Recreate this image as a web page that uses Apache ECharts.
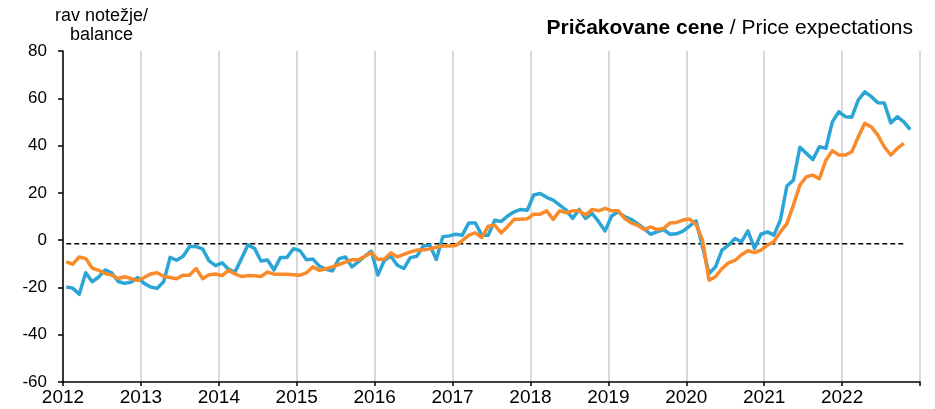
<!DOCTYPE html>
<html>
<head>
<meta charset="utf-8">
<script src="https://cdn.jsdelivr.net/npm/echarts/dist/echarts.min.js"></script>
<style>
  html, body { margin: 0; padding: 0; background: #fff; }
  #chart { width: 935px; height: 409px; }
</style>
</head>
<body>
<div id="chart"></div>
<script>
// Monthly data, January 2012 onward
const yearLabels = ['2012','2013','2014','2015','2016','2017','2018','2019','2020','2021','2022'];

const seriesBlue = [
  -19.8, -20.3, -22.9, -13.8, -17.6, -15.6, -12.6, -13.8, -17.5, -18.3, -17.7, -15.8,
  -18.3, -19.8, -20.4, -17.6, -7.3, -8.5, -6.8, -2.7, -2.7, -3.7, -8.8, -10.8,
  -9.6, -12.3, -13.5, -7.8, -2.0, -3.5, -8.8, -8.4, -12.6, -7.3, -7.3, -3.6,
  -4.5, -8.3, -8.0, -11.0, -12.3, -13.0, -7.8, -7.1, -11.3, -9.1, -6.8, -4.7,
  -14.8, -8.5, -6.8, -10.6, -12.0, -7.4, -6.8, -2.5, -2.1, -8.2, 1.4, 1.8,
  2.5, 2.1, 7.3, 7.3, 2.1, 2.1, 8.4, 7.9, 10.2, 12.0, 13.0, 12.6,
  19.1, 19.7, 18.1, 16.9, 14.8, 12.7, 9.2, 13.0, 9.2, 11.3, 7.8, 3.9,
  10.2, 12.0, 9.9, 8.8, 7.0, 4.9, 2.5, 3.5, 4.5, 2.5, 2.7, 3.8,
  5.9, 8.2, -2.7, -14.1, -11.3, -4.2, -2.1, 0.7, -0.7, 3.9, -3.5, 2.5,
  3.5, 2.1, 8.5, 22.9, 25.4, 39.3, 36.7, 34.1, 39.5, 38.8, 50.0, 54.3,
  52.2, 52.0, 59.3, 62.7, 60.7, 58.1, 58.0, 49.6, 52.2, 50.0, 46.8
];

const seriesOrange = [
  -9.2, -10.2, -7.1, -7.8, -11.8, -12.8, -14.1, -14.8, -16.2, -15.5, -16.3, -17.1,
  -15.8, -14.3, -13.8, -15.3, -15.8, -16.3, -14.8, -14.8, -12.0, -16.3, -14.6, -14.3,
  -15.0, -12.8, -14.3, -15.4, -15.0, -15.1, -15.4, -13.5, -14.4, -14.4, -14.4, -14.6,
  -14.8, -13.8, -11.3, -12.8, -12.1, -11.3, -10.3, -9.3, -8.3, -8.3, -6.8, -5.3,
  -8.2, -8.0, -5.4, -7.1, -6.0, -5.0, -4.2, -4.2, -3.7, -3.0, -2.5, -2.5,
  -2.3, -0.2, 2.1, 3.1, 1.1, 5.9, 6.3, 3.1, 5.8, 8.8, 8.8, 9.0,
  11.0, 11.0, 12.4, 8.8, 12.4, 11.6, 12.4, 12.4, 10.6, 13.0, 12.4, 13.4,
  12.4, 12.4, 9.2, 7.3, 6.3, 4.5, 5.6, 4.5, 4.9, 7.3, 7.5, 8.5,
  8.9, 6.7, 0.0, -16.9, -15.5, -12.0, -9.6, -8.6, -6.2, -4.5, -5.3, -4.2,
  -2.1, -0.7, 3.5, 7.0, 14.8, 23.3, 26.8, 27.5, 26.0, 33.8, 37.8, 36.0,
  36.0, 37.4, 43.7, 49.4, 47.9, 44.4, 39.5, 36.0, 38.8, 40.9
];

const longTermAverage = -1.5;

const yTicks = [-60, -40, -20, 0, 20, 40, 60, 80];

const FONT = '"Liberation Sans", Arial, Helvetica, sans-serif';
const MONTHS_SHOWN = yearLabels.length * 12; // axis runs Jan 2012 .. Jan 2023

// months counted from Jan 2012; each point sits in the middle of its month
const toPoints = arr => arr.map((v, i) => [i + 0.5, v]);
const avgLine = seriesOrange.map((_, i) => [i + 0.5, longTermAverage]);

const chart = echarts.init(document.getElementById('chart'), null, { renderer: 'canvas' });
chart.setOption({
  animation: false,
  backgroundColor: '#fff',
  title: {
    text: '{b|Pričakovane cene} / Price expectations',
    right: 17,
    top: 13,
    textStyle: {
      fontFamily: FONT, fontSize: 21, fontWeight: 'normal', color: '#000',
      rich: { b: { fontFamily: FONT, fontSize: 21, fontWeight: 'bold', color: '#000' } }
    }
  },
  graphic: [{
    type: 'text',
    left: 55,
    top: 7,
    style: {
      text: 'rav notežje/\nbalance',
      font: '18px ' + FONT,
      fill: '#000',
      textAlign: 'center',
      lineHeight: 19
    }
  }],
  grid: { left: 63, right: 15, top: 51, bottom: 27, containLabel: false },
  xAxis: {
    type: 'value',
    min: 0,
    max: MONTHS_SHOWN,
    interval: 12,
    axisLine: { show: true, onZero: false, lineStyle: { color: '#000', width: 1.5 } },
    axisTick: { show: true, length: 4, lineStyle: { color: '#000', width: 1.5 } },
    axisLabel: {
      margin: 6,
      fontFamily: FONT, fontSize: 19, color: '#000',
      formatter: v => yearLabels[v / 12] || ''
    },
    splitLine: { show: true, lineStyle: { color: '#d9d9d9', width: 2 } }
  },
  yAxis: {
    type: 'value',
    min: yTicks[0],
    max: yTicks[yTicks.length - 1],
    interval: 20,
    axisLine: { show: true, lineStyle: { color: '#000', width: 1.5 } },
    axisTick: { show: true, length: 5, lineStyle: { color: '#000', width: 1.5 } },
    axisLabel: { margin: 16, fontFamily: FONT, fontSize: 17, color: '#000' },
    splitLine: { show: false }
  },
  series: [
    {
      name: 'avg', type: 'line', data: avgLine, showSymbol: false, silent: true,
      lineStyle: { color: '#000', width: 1.5, type: [5, 3] }, z: 1
    },
    {
      name: 'blue', type: 'line', data: toPoints(seriesBlue), showSymbol: false,
      lineStyle: { color: '#2BA5D6', width: 3.5, join: 'round' }, z: 2
    },
    {
      name: 'orange', type: 'line', data: toPoints(seriesOrange), showSymbol: false,
      lineStyle: { color: '#F98B2B', width: 3.5, join: 'round' }, z: 3
    }
  ]
});
</script>
</body>
</html>
